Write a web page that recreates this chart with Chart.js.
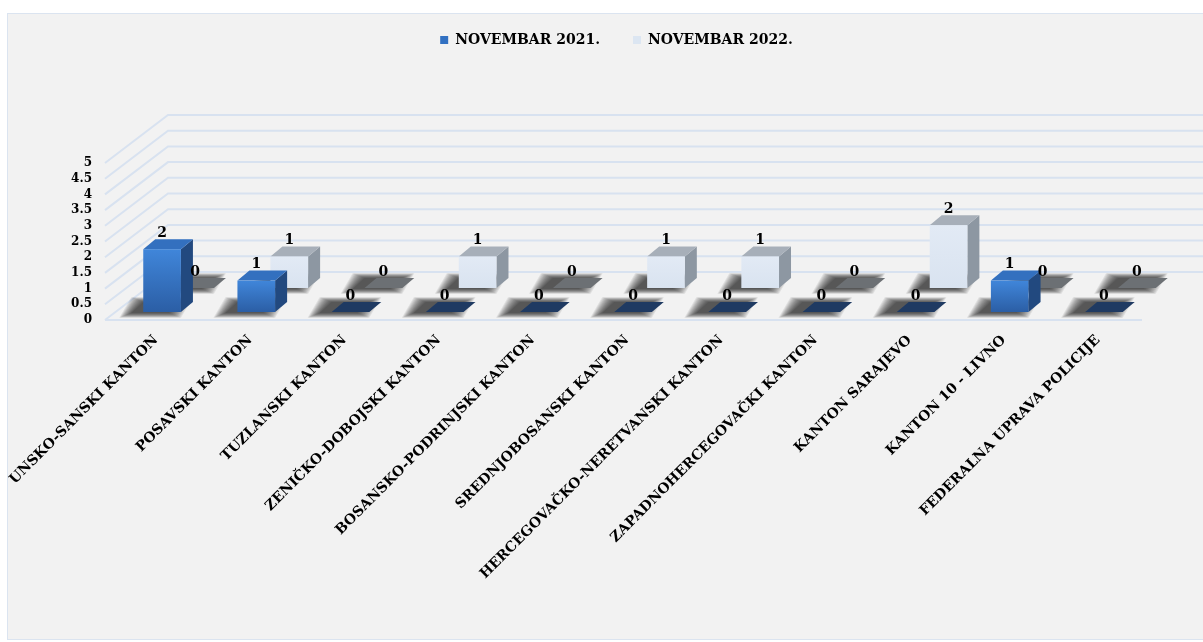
<!DOCTYPE html>
<html>
<head>
<meta charset="utf-8">
<script src="https://cdn.jsdelivr.net/npm/chart.js@4.4.1/dist/chart.umd.min.js"></script>
<style>
  body { margin: 0; background: #ffffff; }
  #frame {
    position: absolute; left: 7px; top: 13px; width: 1200px; height: 627px;
    background: #f2f2f2; border: 1px solid #dbe4f0; box-sizing: border-box;
  }
  #wrap { position: absolute; left: 0; top: 0; width: 1203px; height: 642px; }
</style>
</head>
<body>
<div id="frame"></div>
<div id="wrap"><canvas id="chart" width="1203" height="642"></canvas></div>
<script>
// podaci
const categories = [
  "UNSKO-SANSKI KANTON",
  "POSAVSKI KANTON",
  "TUZLANSKI KANTON",
  "ZENIČKO-DOBOJSKI KANTON",
  "BOSANSKO-PODRINJSKI KANTON",
  "SREDNJOBOSANSKI KANTON",
  "HERCEGOVAČKO-NERETVANSKI KANTON",
  "ZAPADNOHERCEGOVAČKI KANTON",
  "KANTON SARAJEVO",
  "KANTON 10 - LIVNO",
  "FEDERALNA UPRAVA POLICIJE"
];
const novembar2021 = [2, 1, 0, 0, 0, 0, 0, 0, 0, 1, 0];
const novembar2022 = [0, 1, 0, 1, 0, 1, 1, 0, 2, 0, 0];
const seriesNames = ["NOVEMBAR 2021.", "NOVEMBAR 2022."];
const yMin = 0, yMax = 5, yStep = 0.5;

const serif = "'DejaVu Serif', serif";

// 3D izgled: pomak redova i dubina kocke
const DEPTH = { dx: 12, dy: -10 };
const WALL = { dx: 63, dy: -48 };
const rowStyle = [
  { off: { dx: 0, dy: -8 }, front: ["#4086da", "#2b5ea5"], side: "#22497f", top: "#3370bf", flat: "#1f3a62" },
  { off: { dx: 33, dy: -32 }, front: ["#e2eaf5", "#d9e3f0"], side: "#8d97a2", top: "#a7afb9", flat: "#6c7074" }
];

function footprint(ctx, x0, x1, base) {
  ctx.beginPath();
  ctx.moveTo(x0, base);
  ctx.lineTo(x1, base);
  ctx.lineTo(x1 + DEPTH.dx, base + DEPTH.dy);
  ctx.lineTo(x0 + DEPTH.dx, base + DEPTH.dy);
  ctx.closePath();
}

// meka sjena: slojevi prozirnih paralelograma pomaknuti ulijevo
function softShadow(ctx, x0, x1, base) {
  const sx = -12;
  for (let r = 12; r >= 0; r -= 1) {
    ctx.fillStyle = "rgba(0,0,0,0.08)";
    ctx.beginPath();
    ctx.moveTo(x0 + sx - r, base + 1 + r * 0.4);
    ctx.lineTo(x1 + sx + r, base + 1 + r * 0.4);
    ctx.lineTo(x1 + sx + DEPTH.dx + r, base + DEPTH.dy - r * 0.4);
    ctx.lineTo(x0 + sx + DEPTH.dx - r, base + DEPTH.dy - r * 0.4);
    ctx.closePath();
    ctx.fill();
  }
}

function drawBox(ctx, x0, x1, top, base, st) {
  ctx.fillStyle = st.side;
  ctx.beginPath();
  ctx.moveTo(x1, base);
  ctx.lineTo(x1 + DEPTH.dx, base + DEPTH.dy);
  ctx.lineTo(x1 + DEPTH.dx, top + DEPTH.dy);
  ctx.lineTo(x1, top);
  ctx.closePath();
  ctx.fill();

  ctx.fillStyle = st.top;
  ctx.beginPath();
  ctx.moveTo(x0, top);
  ctx.lineTo(x1, top);
  ctx.lineTo(x1 + DEPTH.dx, top + DEPTH.dy);
  ctx.lineTo(x0 + DEPTH.dx, top + DEPTH.dy);
  ctx.closePath();
  ctx.fill();

  const g = ctx.createLinearGradient(0, top, 0, base);
  g.addColorStop(0, st.front[0]);
  g.addColorStop(1, st.front[1]);
  ctx.fillStyle = g;
  ctx.fillRect(x0, top, x1 - x0, base - top);
}

const bars3d = {
  id: "bars3d",
  afterInit(chart) {
    // legenda zauzima prostor do vrha zida, malo pomaknuta udesno
    const lg = chart.legend;
    const fit = lg.fit;
    lg.fit = function () {
      fit.call(this);
      this.height = 163;
    };
    const draw = lg.draw;
    lg.draw = function () {
      this.ctx.save();
      this.ctx.translate(7, 0);
      draw.call(this);
      this.ctx.restore();
    };
  },
  beforeDatasetsDraw(chart) {
    const ctx = chart.ctx;
    const ys = chart.scales.y;
    const area = chart.chartArea;
    const left = area.left - 10;
    ctx.save();
    ctx.strokeStyle = "#d8e2f0";
    ctx.lineWidth = 2;
    ys.ticks.forEach((t) => {
      const y = ys.getPixelForValue(t.value);
      ctx.beginPath();
      ctx.moveTo(left, y);
      ctx.lineTo(left + WALL.dx, y + WALL.dy);
      ctx.lineTo(chart.width, y + WALL.dy);
      ctx.stroke();
    });
    const y0 = ys.getPixelForValue(0);
    ctx.beginPath();
    ctx.moveTo(left, y0);
    ctx.lineTo(area.right - 9, y0);
    ctx.stroke();
    ctx.restore();
  },
  beforeDatasetDraw(chart, args) {
    const ctx = chart.ctx;
    const st = rowStyle[args.index];
    const meta = args.meta;
    ctx.save();
    ctx.translate(st.off.dx, st.off.dy);
    meta.data.forEach((el) => {
      softShadow(ctx, el.x - el.width / 2, el.x + el.width / 2, el.base);
    });
    meta.data.forEach((el) => {
      const x0 = el.x - el.width / 2, x1 = el.x + el.width / 2;
      if (Math.abs(el.base - el.y) < 0.5) {
        ctx.fillStyle = st.flat;
        footprint(ctx, x0, x1, el.base);
        ctx.fill();
      } else {
        drawBox(ctx, x0, x1, el.y, el.base, st);
      }
    });
    ctx.restore();
    return false;
  },
  afterDatasetsDraw(chart) {
    const ctx = chart.ctx;
    ctx.save();
    ctx.font = "bold 14px " + serif;
    ctx.fillStyle = "#000";
    ctx.textAlign = "center";
    ctx.textBaseline = "middle";
    // prvo zadnji red, pa prednji
    [1, 0].forEach((i) => {
      const st = rowStyle[i];
      const meta = chart.getDatasetMeta(i);
      meta.data.forEach((el, j) => {
        const v = chart.data.datasets[i].data[j];
        ctx.fillText(String(v), el.x + st.off.dx, el.y + st.off.dy - 16);
      });
    });
    ctx.restore();
  }
};

new Chart(document.getElementById("chart"), {
  type: "bar",
  data: {
    labels: categories,
    datasets: [
      { label: seriesNames[0], data: novembar2021, backgroundColor: "#3271c2", grouped: false,
        barPercentage: 0.4, categoryPercentage: 1 },
      { label: seriesNames[1], data: novembar2022, backgroundColor: "#dce6f2", grouped: false,
        barPercentage: 0.4, categoryPercentage: 1 }
    ]
  },
  options: {
    responsive: false,
    devicePixelRatio: 1,
    animation: false,
    layout: { padding: { top: 0, right: 52, left: 68, bottom: 0 } },
    plugins: {
      legend: {
        position: "top",
        labels: {
          boxWidth: 8,
          boxHeight: 8,
          padding: 33,
          color: "#000",
          font: { family: serif, weight: "bold", size: 14 }
        }
      },
      tooltip: { enabled: false }
    },
    scales: {
      x: {
        grid: { display: false, drawTicks: false },
        border: { display: false },
        ticks: {
          autoSkip: false,
          minRotation: 45,
          maxRotation: 45,
          padding: 12,
          labelOffset: -6,
          color: "#000",
          font: { family: serif, weight: "bold", size: 14 }
        },
        afterFit(scale) { scale.height = 642 - 320; }
      },
      y: {
        min: yMin,
        max: yMax,
        grid: { display: false, drawTicks: false },
        border: { display: false },
        ticks: {
          stepSize: yStep,
          autoSkip: false,
          padding: 23,
          color: "#000",
          font: { family: serif, weight: "bold", size: 12 },
          callback: (v) => String(v)
        },
        afterFit(scale) { scale.width = 47; }
      }
    }
  },
  plugins: [bars3d]
});
</script>
</body>
</html>
